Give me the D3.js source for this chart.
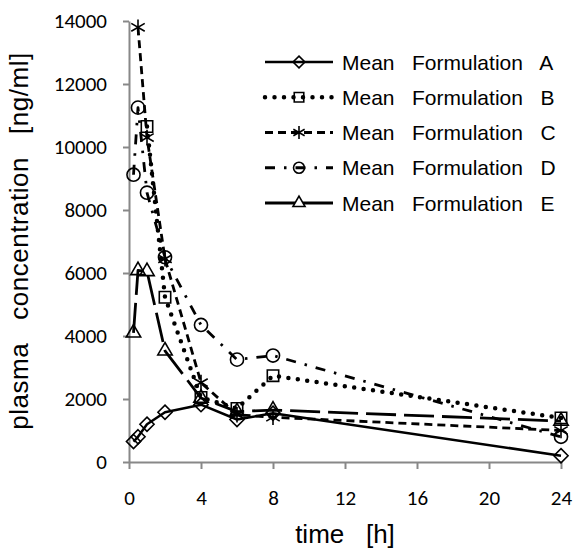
<!DOCTYPE html>
<html>
<head>
<meta charset="utf-8">
<script src="https://cdn.jsdelivr.net/npm/d3@7"></script>
<style>
    body { margin: 0; background: #fff; }
    svg { display: block; }
    .tick text { font-family: Carlito, Calibri, "Liberation Sans", sans-serif; font-size: 21px; fill: #000; }
    .title, .legend text { font-family: "Liberation Sans", Arial, sans-serif; font-weight: normal; fill: #000; white-space: pre; }
</style>
</head>
<body>
<svg id="chart" width="584" height="555"></svg>
<script>
    // sampling times [h]
    const times = [0.25, 0.5, 1, 2, 4, 6, 8, 24];
    // mean plasma concentration [ng/ml], null = not plotted
    const formA = [650, 800, 1200, 1580, 1820, 1350, 1550, 200];
    const formB = [null, null, 10650, 5230, 2050, 1700, 2740, 1400];
    const formC = [null, 13800, 10300, 6450, 2520, 1500, 1420, 1000];
    const formD = [9120, 11250, 8550, 6500, 4350, 3250, 3380, 800];
    const formE = [4100, 6080, 6050, 3530, 2030, 1600, 1650, 1300];
    const seriesNames = ['Mean   Formulation   A', 'Mean   Formulation   B', 'Mean   Formulation   C',
                         'Mean   Formulation   D', 'Mean   Formulation   E'];
    const xTicks = [0, 4, 8, 12, 16, 20, 24];
    const yTicks = [0, 2000, 4000, 6000, 8000, 10000, 12000, 14000];

    // excel-like diamond: a square turned 45 degrees
    const squareDiamond = {
        draw(ctx, size) {
            const r = Math.sqrt(size / 2);
            ctx.moveTo(0, -r); ctx.lineTo(r, 0); ctx.lineTo(0, r); ctx.lineTo(-r, 0); ctx.closePath();
        }
    };

    const styles = [
        {dash: null, width: 2.5, cap: 'butt', symbol: squareDiamond, size: 100},
        {dash: '0 9.5', width: 4.5, cap: 'round', symbol: d3.symbolSquare, size: 130},
        {dash: '8 5', width: 2.8, cap: 'butt', symbol: d3.symbolAsterisk, size: 170},
        {dash: '10 9 2.5 9', width: 2.8, cap: 'butt', symbol: d3.symbolCircle, size: 135},
        {dash: '30 8', width: 2.8, cap: 'butt', symbol: d3.symbolTriangle, size: 90}
    ];

    const series = [formA, formB, formC, formD, formE].map((vals, i) => ({
        name: seriesNames[i],
        style: styles[i],
        points: times.map((t, j) => ({t: t, v: vals[j]}))
    }));

    const svg = d3.select('#chart');
    const x = d3.scaleLinear().domain([0, 24]).range([129, 561]);
    const y = d3.scaleLinear().domain([0, 14000]).range([462, 21]);

    // axes
    const axisColor = '#888';
    const gx = svg.append('g')
        .attr('transform', 'translate(0,' + y(0) + ')')
        .call(d3.axisBottom(x).tickValues(xTicks).tickFormat(d3.format('d'))
            .tickSize(7).tickSizeOuter(0).tickPadding(21));
    const gy = svg.append('g')
        .attr('transform', 'translate(' + x(0) + ',0)')
        .call(d3.axisLeft(y).tickValues(yTicks).tickFormat(d3.format('d'))
            .tickSize(6).tickSizeOuter(0).tickPadding(16));
    [gx, gy].forEach(g => {
        g.select('.domain').attr('stroke', axisColor).attr('stroke-width', 2);
        g.selectAll('.tick line').attr('stroke', axisColor).attr('stroke-width', 2);
    });

    // axis titles
    svg.append('text').attr('class', 'title')
        .attr('x', 345).attr('y', 543)
        .attr('text-anchor', 'middle')
        .style('font-size', '26px')
        .text('time   [h]');
    svg.append('text').attr('class', 'title')
        .attr('transform', 'translate(28,241) rotate(-90)')
        .attr('text-anchor', 'middle')
        .style('font-size', '26px')
        .style('letter-spacing', '0.5px')
        .text('plasma   concentration   [ng/ml]');

    // lines and markers
    const line = d3.line()
        .defined(d => d.v != null)
        .x(d => x(d.t))
        .y(d => y(d.v));

    const plot = svg.append('g');
    series.forEach(s => {
        plot.append('path')
            .attr('d', line(s.points))
            .attr('fill', 'none')
            .attr('stroke', '#000')
            .attr('stroke-width', s.style.width)
            .attr('stroke-linecap', s.style.cap)
            .attr('stroke-linejoin', 'round')
            .attr('stroke-dasharray', s.style.dash);
    });
    series.forEach(s => {
        plot.selectAll(null)
            .data(s.points.filter(d => d.v != null))
            .join('path')
            .attr('transform', d => 'translate(' + x(d.t) + ',' + y(d.v) + ')')
            .attr('d', d3.symbol(s.style.symbol, s.style.size))
            .attr('fill', 'none')
            .attr('stroke', '#000')
            .attr('stroke-width', 1.6);
    });

    // legend
    const legend = svg.append('g').attr('class', 'legend');
    const rowY = d3.scalePoint().domain(seriesNames).range([62, 203]);
    series.forEach(s => {
        const g = legend.append('g').attr('transform', 'translate(0,' + rowY(s.name) + ')');
        g.append('line')
            .attr('x1', 265).attr('x2', 333)
            .attr('stroke', '#000')
            .attr('stroke-width', s.style.width)
            .attr('stroke-linecap', s.style.cap)
            .attr('stroke-dasharray', s.style.dash);
        g.append('path')
            .attr('transform', 'translate(299,0)')
            .attr('d', d3.symbol(s.style.symbol, s.style.size * 0.7))
            .attr('fill', 'none')
            .attr('stroke', '#000')
            .attr('stroke-width', 1.6);
        g.append('text')
            .attr('x', 342).attr('dy', '0.36em')
            .style('font-size', '21px')
            .text(s.name);
    });
</script>
</body>
</html>
